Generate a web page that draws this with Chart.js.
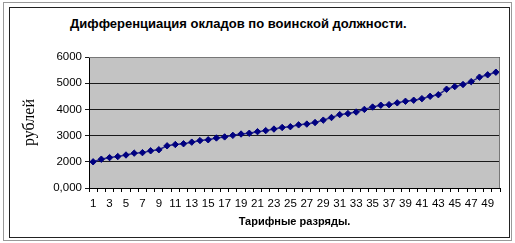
<!DOCTYPE html>
<html>
<head>
<meta charset="utf-8">
<script src="https://cdn.jsdelivr.net/npm/chart.js@4.4.1/dist/chart.umd.min.js"></script>
<style>
  html, body { margin: 0; padding: 0; background: #fff; }
  #wrap { position: relative; width: 515px; height: 243px; overflow: hidden; }
  #frameOuter { position: absolute; left: 3px; top: 2px; width: 509px; height: 239px; border: 1px solid #999; box-sizing: border-box; }
  #frameInner { position: absolute; left: 9px; top: 7px; width: 501px; height: 231px; border: 1px solid #222; box-sizing: border-box; }
  #title { position: absolute; left: 70px; top: 16px; font: bold 13px "Liberation Sans", Arial, sans-serif; color: #000; white-space: nowrap; }
  canvas { position: absolute; left: 0; top: 0; }
</style>
</head>
<body>
<div id="wrap">
  <div id="frameOuter"></div>
  <div id="frameInner"></div>
  <div id="title">Дифференциация окладов по воинской должности.</div>
  <canvas id="chart" width="515" height="243"></canvas>
</div>
<script>
document.addEventListener('DOMContentLoaded', function () {
    // Тарифные разряды
    var categories = [1, 2, 3, 4, 5, 6, 7, 8, 9, 10,
        11, 12, 13, 14, 15, 16, 17, 18, 19, 20,
        21, 22, 23, 24, 25, 26, 27, 28, 29, 30,
        31, 32, 33, 34, 35, 36, 37, 38, 39, 40,
        41, 42, 43, 44, 45, 46, 47, 48, 49, 50];

    // Оклады, рублей
    var salaries = [2000, 2100, 2160, 2200, 2260, 2330, 2350, 2420, 2460, 2610,
        2660, 2690, 2750, 2810, 2840, 2910, 2950, 3010, 3060, 3090,
        3150, 3190, 3250, 3310, 3340, 3410, 3440, 3500, 3590, 3690,
        3800, 3840, 3900, 4000, 4090, 4160, 4180, 4250, 4310, 4350,
        4410, 4500, 4560, 4770, 4870, 4950, 5060, 5230, 5320, 5420];

    // Подписи оси Y (нижняя метка в оригинале подписана "0,000")
    var yTickValues = [1000, 2000, 3000, 4000, 5000, 6000];
    var yTickLabels = ['0,000', '2000', '3000', '4000', '5000', '6000'];

    var tickFont = { family: '"Liberation Sans", Arial, sans-serif', size: 11.5 };

    // Серый фон и рамка области построения
    var plotArea = {
        id: 'plotArea',
        beforeDraw: function (chart) {
            var a = chart.chartArea, ctx = chart.ctx;
            ctx.save();
            ctx.fillStyle = '#c3c3c3';
            ctx.fillRect(a.left, a.top, a.right - a.left, a.bottom - a.top);
            ctx.restore();
        },
        afterDraw: function (chart) {
            var a = chart.chartArea, ctx = chart.ctx;
            ctx.save();
            ctx.strokeStyle = '#777';
            ctx.lineWidth = 1;
            ctx.beginPath();
            ctx.moveTo(a.left, a.top + 0.5);
            ctx.lineTo(a.right - 0.5, a.top + 0.5);
            ctx.lineTo(a.right - 0.5, a.bottom);
            ctx.stroke();
            ctx.restore();
        }
    };

    new Chart(document.getElementById('chart'), {
        type: 'line',
        data: {
            labels: categories,
            datasets: [{
                data: salaries,
                borderColor: '#2a2a8c',
                borderWidth: 1.5,
                backgroundColor: '#000080',
                pointBackgroundColor: '#000080',
                pointBorderColor: '#000080',
                pointStyle: 'rectRot',
                pointRadius: 3.2,
                pointBorderWidth: 1,
                tension: 0
            }]
        },
        options: {
            responsive: false,
            animation: false,
            layout: { padding: { top: 57, right: 15, left: 0, bottom: 0 } },
            plugins: {
                legend: { display: false },
                tooltip: { enabled: false }
            },
            scales: {
                x: {
                    type: 'category',
                    offset: true,
                    afterFit: function (s) { s.height = 55; },
                    grid: {
                        offset: true,
                        drawOnChartArea: false,
                        drawTicks: true,
                        tickLength: 4,
                        color: '#000'
                    },
                    border: { color: '#000', width: 1 },
                    ticks: {
                        autoSkip: false,
                        maxRotation: 0,
                        padding: 5,
                        color: '#000',
                        font: tickFont,
                        callback: function (v, i) { return i % 2 === 0 ? categories[i] : ''; }
                    },
                    title: {
                        display: true,
                        text: 'Тарифные разряды.',
                        color: '#000',
                        font: { family: '"Liberation Sans", Arial, sans-serif', size: 11, weight: 'bold' },
                        padding: { top: 0, bottom: 14 }
                    }
                },
                y: {
                    min: 1000,
                    max: 6000,
                    afterFit: function (s) { s.width = 89; },
                    afterBuildTicks: function (s) {
                        s.ticks = yTickValues.map(function (v) { return { value: v }; });
                    },
                    grid: {
                        color: '#1a1a1a',
                        lineWidth: 1,
                        drawTicks: true,
                        tickLength: 4
                    },
                    border: { color: '#000', width: 1 },
                    ticks: {
                        padding: 3,
                        color: '#000',
                        font: tickFont,
                        callback: function (v) {
                            var i = yTickValues.indexOf(v);
                            return i >= 0 ? yTickLabels[i] : '';
                        }
                    },
                    title: {
                        display: true,
                        text: 'рублей',
                        color: '#000',
                        font: { family: '"Liberation Serif", "Times New Roman", serif', size: 16 },
                        padding: { top: 20, bottom: 0 }
                    }
                }
            }
        },
        plugins: [plotArea]
    });
});
</script>
</body>
</html>
